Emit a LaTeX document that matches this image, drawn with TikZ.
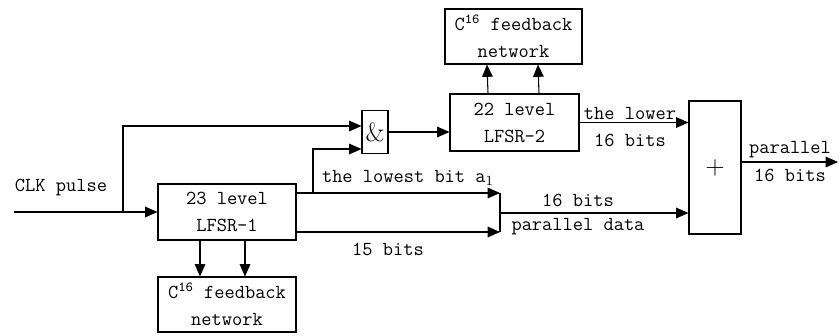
\documentclass[tikz,border=0pt]{standalone}
\usepackage{tikz}
\usetikzlibrary{arrows.meta}

\tikzset{
  txt/.style={font=\ttfamily\fontsize{11.3}{15.3}\selectfont},
  blk/.style={draw, line width=0.6pt, inner sep=0pt, align=center, txt},
  arr/.style={-{Triangle[length=7pt,width=6pt]}, line width=0.6pt},
  ln/.style={line width=0.6pt}
}

\begin{document}
\begin{tikzpicture}[x=0.02cm, y=-0.02cm]
  \useasboundingbox (0, 0) rectangle (839, 335);
  \node[blk, minimum width=2.76cm, minimum height=1.12cm] (lfsra) at (227, 212) {23 level\\LFSR-1};
  \node[blk, minimum width=2.76cm, minimum height=1.10cm] (fba) at (227, 304.5) {C\textsuperscript{16} feedback\\network};
  \node[blk, minimum width=0.52cm, minimum height=0.86cm, font=\fontsize{15}{15}\selectfont] (andg) at (375, 132) {\&};
  \node[blk, minimum width=2.58cm, minimum height=1.14cm] (lfsrb) at (514.5, 122.5) {22 level\\LFSR-2};
  \node[blk, minimum width=2.74cm, minimum height=1.10cm] (fbb) at (513.5, 36.5) {C\textsuperscript{16} feedback\\network};
  \node[blk, minimum width=1.04cm, minimum height=2.66cm, font=\fontsize{15}{15}\selectfont] (plus) at (715, 167.5) {+};
  \coordinate (clk) at (14, 212);
  \coordinate (br) at (123, 212);
  \coordinate (tap) at (313, 193);
  \coordinate (bartop) at (500, 193);
  \coordinate (barbot) at (500, 232);
  \coordinate (barmid) at (500, 213);
  \coordinate (out) at (838, 162);

  \draw[arr] (clk) -- (lfsra.west);
  \draw[arr] (br) |- ([yshift=0.12cm]andg.west);
  \draw[arr] (tap) |- ([yshift=-0.34cm]andg.west);
  \draw[arr] (lfsra.east |- tap) -- (bartop);
  \draw[arr] (lfsra.east |- barbot) -- (barbot);
  \draw[ln] (bartop) -- (barbot);
  \draw[arr] (barmid) -- (barmid -| plus.west);
  \draw[arr] (andg.east) -- (andg.east -| lfsrb.west);
  \draw[arr] (lfsrb.east) -- (lfsrb.east -| plus.west);
  \draw[arr] (plus.east |- out) -- (out);
  \draw[arr] ([xshift=-0.54cm]lfsra.south) -- ([xshift=-0.54cm]fba.north);
  \draw[arr] ([xshift=0.36cm]lfsra.south) -- ([xshift=0.36cm]fba.north);
  \draw[arr] ([xshift=-0.53cm]lfsrb.north) -- ([xshift=-0.53cm]fbb.south);
  \draw[arr] ([xshift=0.49cm]lfsrb.north) -- ([xshift=0.49cm]fbb.south);

  \node[txt] (clklbl) at (61, 188) {CLK pulse};
  \node[txt] (lowlbl) at (408, 178) {the lowest bit a$_1$};
  \node[txt] (fiflbl) at (388, 249) {15 bits};
  \node[txt] (sixlbl) at (578, 200) {16 bits};
  \node[txt] (parlbl) at (578, 227) {parallel data};
  \node[txt] (lowerlbl) at (630, 113) {the lower};
  \node[txt] (lowbits) at (630, 140) {16 bits};
  \node[txt] (outlbl) at (790, 150) {parallel};
  \node[txt] (outbits) at (790, 175) {16 bits};
\end{tikzpicture}
\end{document}
